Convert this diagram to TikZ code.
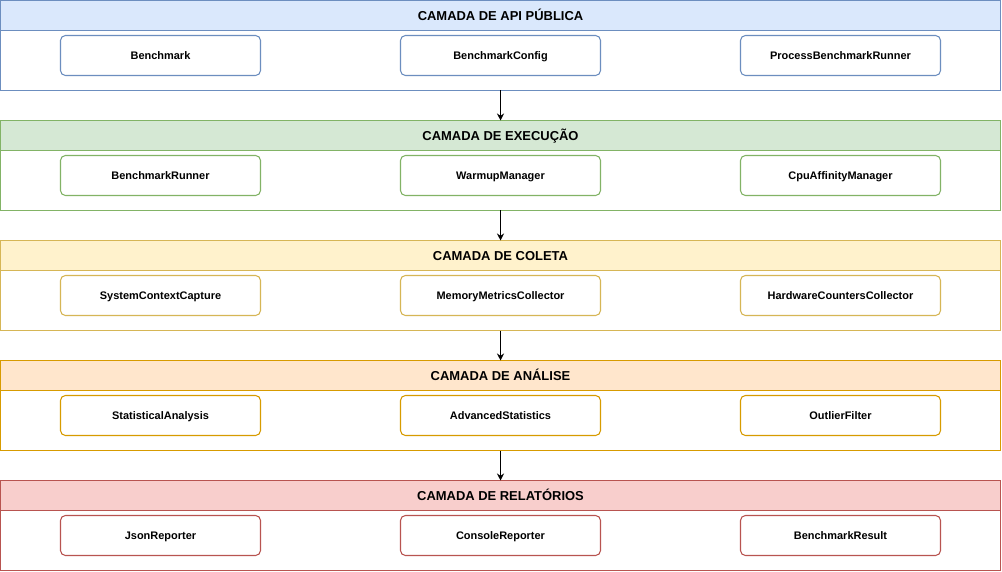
\documentclass[tikz,border=0pt]{standalone}
\usepackage{fontspec}
\setmainfont{Liberation Sans}
\usepackage{xcolor}
\usepackage{tikz}
\usetikzlibrary{arrows.meta, positioning}
\definecolor{apiblue}{HTML}{6C8EBF}
\definecolor{apilight}{HTML}{DAE8FC}
\definecolor{execgreen}{HTML}{82B366}
\definecolor{execlight}{HTML}{D5E8D4}
\definecolor{colyellow}{HTML}{D6B656}
\definecolor{collight}{HTML}{FFF2CC}
\definecolor{anaorange}{HTML}{D79B00}
\definecolor{analight}{HTML}{FFE6CC}
\definecolor{repred}{HTML}{B85450}
\definecolor{replight}{HTML}{F8CECC}
\tikzset{
  header/.style={rectangle, minimum width=20cm, minimum height=0.6cm,
    outer sep=0pt, inner sep=0pt, draw, line width=0.6pt,
    text height=1.6ex, text depth=0.5ex,
    font=\bfseries\fontsize{7.37}{9}\selectfont},
  layerbody/.style={rectangle, minimum width=20cm, minimum height=1.2cm,
    outer sep=0pt, inner sep=0pt, draw, fill=white, line width=0.6pt},
  comp/.style={rectangle, rounded corners=2.8pt, minimum width=4cm,
    minimum height=0.8cm, outer sep=0pt, draw, fill=white, line width=0.6pt,
    text height=1.5ex, text depth=0.6ex,
    font=\bfseries\fontsize{6.24}{8}\selectfont},
  apihead/.style={header, fill=apilight, draw=apiblue},
  apibox/.style={comp, draw=apiblue},
  exechead/.style={header, fill=execlight, draw=execgreen},
  execbox/.style={comp, draw=execgreen},
  colhead/.style={header, fill=collight, draw=colyellow},
  colbox/.style={comp, draw=colyellow},
  anahead/.style={header, fill=analight, draw=anaorange},
  anabox/.style={comp, draw=anaorange},
  rephead/.style={header, fill=replight, draw=repred},
  repbox/.style={comp, draw=repred},
  arrow/.style={-{Stealth[length=4pt, width=4pt]}, line width=0.6pt, color=black},
}
\begin{document}
\begin{tikzpicture}[node distance=0.1cm and 2.8cm]
  \useasboundingbox (0,0) rectangle (20.04,-11.44);

  % camada de API publica
  \node[apihead] (apihdr) at (10.01,-0.31) {CAMADA DE API PÚBLICA};
  \node[layerbody, draw=apiblue, below=0pt of apihdr] (apibody) {};
  \node[apibox, below=of apihdr] (config) {BenchmarkConfig};
  \node[apibox, left=of config] (bench) {Benchmark};
  \node[apibox, right=of config] (procrunner) {ProcessBenchmarkRunner};

  % camada de execucao
  \node[exechead] (exechdr) at (10.01,-2.71) {CAMADA DE EXECUÇÃO};
  \node[layerbody, draw=execgreen, below=0pt of exechdr] (execbody) {};
  \node[execbox, below=of exechdr] (warmup) {WarmupManager};
  \node[execbox, left=of warmup] (runner) {BenchmarkRunner};
  \node[execbox, right=of warmup] (affinity) {CpuAffinityManager};

  % camada de coleta
  \node[colhead] (colhdr) at (10.01,-5.11) {CAMADA DE COLETA};
  \node[layerbody, draw=colyellow, below=0pt of colhdr] (colbody) {};
  \node[colbox, below=of colhdr] (memory) {MemoryMetricsCollector};
  \node[colbox, left=of memory] (context) {SystemContextCapture};
  \node[colbox, right=of memory] (hwcount) {HardwareCountersCollector};

  % camada de analise
  \node[anahead] (anahdr) at (10.01,-7.51) {CAMADA DE ANÁLISE};
  \node[layerbody, draw=anaorange, below=0pt of anahdr] (anabody) {};
  \node[anabox, below=of anahdr] (advstats) {AdvancedStatistics};
  \node[anabox, left=of advstats] (statan) {StatisticalAnalysis};
  \node[anabox, right=of advstats] (outlier) {OutlierFilter};

  % camada de relatorios
  \node[rephead] (rephdr) at (10.01,-9.91) {CAMADA DE RELATÓRIOS};
  \node[layerbody, draw=repred, below=0pt of rephdr] (repbody) {};
  \node[repbox, below=of rephdr] (console) {ConsoleReporter};
  \node[repbox, left=of console] (json) {JsonReporter};
  \node[repbox, right=of console] (result) {BenchmarkResult};

  \draw[arrow] (apibody)  -- (exechdr);
  \draw[arrow] (execbody) -- (colhdr);
  \draw[arrow] (colbody)  -- (anahdr);
  \draw[arrow] (anabody)  -- (rephdr);
\end{tikzpicture}
\end{document}
